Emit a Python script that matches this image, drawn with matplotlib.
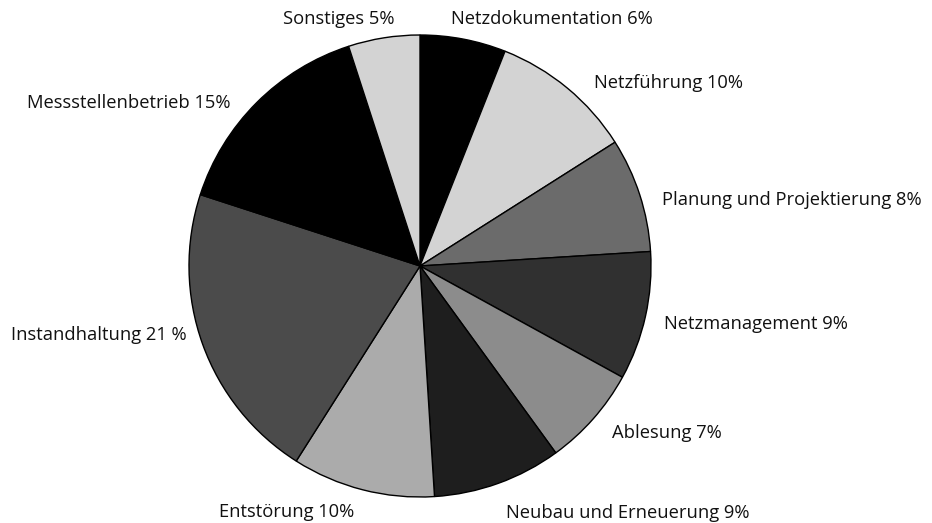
import matplotlib
matplotlib.use("Agg")
import matplotlib.pyplot as plt
import matplotlib.transforms as mtransforms

plt.rcParams['font.family'] = ['Open Sans', 'DejaVu Sans']

categories = [
    "Netzdokumentation", "Netzführung", "Planung und Projektierung",
    "Netzmanagement", "Ablesung", "Neubau und Erneuerung", "Entstörung",
    "Instandhaltung", "Messstellenbetrieb", "Sonstiges",
]
shares = [6, 10, 8, 9, 7, 9, 10, 21, 15, 5]
label_texts = [
    "Netzdokumentation 6%", "Netzführung 10%", "Planung und Projektierung 8%",
    "Netzmanagement 9%", "Ablesung 7%", "Neubau und Erneuerung 9%",
    "Entstörung 10%", "Instandhaltung 21 %", "Messstellenbetrieb 15%",
    "Sonstiges 5%",
]
colors = ["#000000", "#d3d3d3", "#6b6b6b", "#303030", "#8c8c8c",
          "#1e1e1e", "#ababab", "#4b4b4b", "#000000", "#d3d3d3"]

# fine nudges for the outer labels (points, x right / y up)
label_nudges = [(-12, -2), (9, -9), (0, -9), (-3, -1.5), (1, 0.5),
                (0, -6), (-2, 0), (4, 12.5), (-7, -12), (10, -3)]

fig = plt.figure(figsize=(9.32, 5.23), dpi=100)
ax = fig.add_axes([189 / 932, 26 / 523, 462 / 932, 462 / 523])

wedges, texts = ax.pie(
    shares, labels=label_texts, colors=colors, startangle=90,
    counterclock=False, labeldistance=1.1,
    wedgeprops=dict(edgecolor="black", linewidth=1.0),
    textprops=dict(fontsize=13.2, color="#111111"),
)
for t, (dx, dy) in zip(texts, label_nudges):
    t.set_transform(ax.transData + mtransforms.ScaledTranslation(
        dx / 72, dy / 72, fig.dpi_scale_trans))

ax.set_xlim(-1, 1)
ax.set_ylim(-1, 1)
ax.set_aspect("auto")
ax.axis("off")

fig.savefig("out.png", dpi=100, facecolor="white")
